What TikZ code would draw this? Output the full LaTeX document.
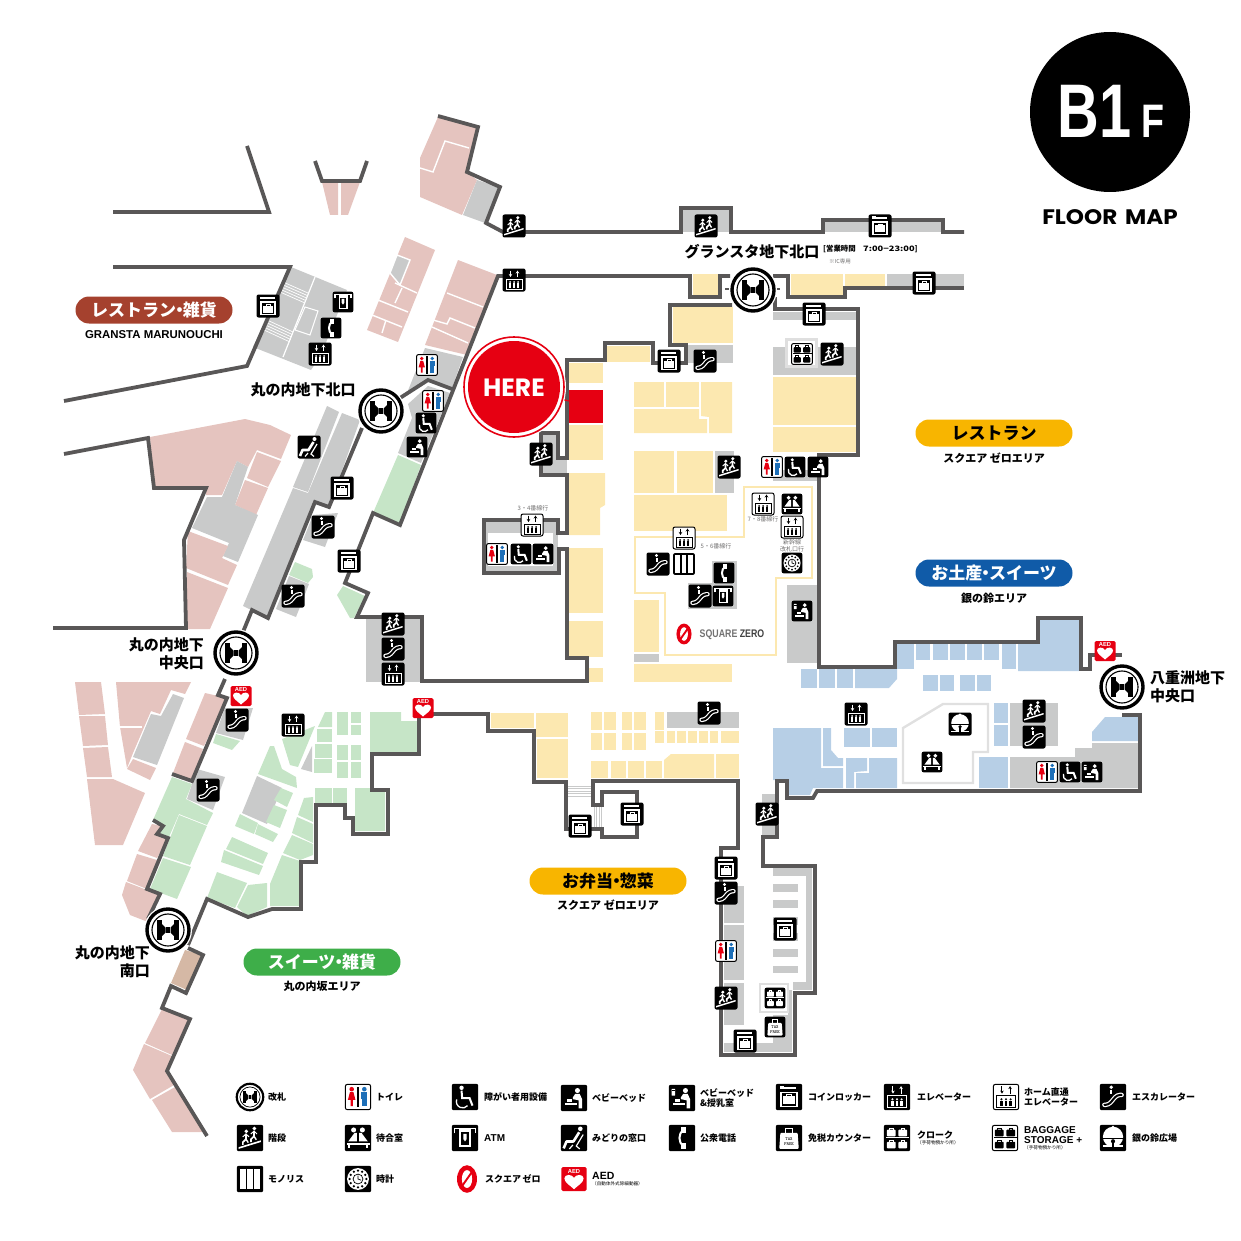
\documentclass[tikz,border=0pt]{standalone}
\usepackage{fontspec}
\usepackage{graphicx}
\usetikzlibrary{arrows.meta}
\newfontfamily\jp{Noto Sans CJK JP}
\newfontfamily\headfont{Poppins}
\setsansfont{Liberation Sans}
\definecolor{wallc}{HTML}{595757}
\definecolor{pinkc}{HTML}{E5C4BF}
\definecolor{grayc}{HTML}{C9CACA}
\definecolor{yelc}{HTML}{FCE8B0}
\definecolor{grnc}{HTML}{C6E5C7}
\definecolor{bluc}{HTML}{B7CFE6}
\definecolor{redc}{HTML}{E60012}
\definecolor{tanc}{HTML}{D5B8A5}
\definecolor{txtg}{HTML}{727171}
\definecolor{pillbrown}{HTML}{A5412E}
\definecolor{pillyel}{HTML}{F8B500}
\definecolor{pillblu}{HTML}{105BA8}
\definecolor{pillgrn}{HTML}{3EAE49}
\definecolor{mansblue}{HTML}{1D6FB8}
\newcommand{\nakag}{\kern-.3em・\kern-.3em}
\newcommand{\ibox}{\fill[black,rounded corners=2] (-11.5,-11.5) rectangle (11.5,11.5);}
\newcommand{\wbox}{\filldraw[fill=white,draw=black,line width=1,rounded corners=2] (-11,-11) rectangle (11,11);}
\newcommand{\elevmark}[1]{
  \draw[#1,line width=1,-{Stealth[length=3,width=3.5]}] (-3.5,-9.5) -- (-3.5,-3);
  \draw[#1,line width=1,-{Stealth[length=3,width=3.5]}] (3.5,-3) -- (3.5,-9.5);
  \draw[#1,line width=1] (-8,-1) rectangle (8,9);
  \foreach \k in {-4,0,4} {
    \fill[#1] (\k,2) circle [radius=1];
    \fill[#1] (\k-1,3.2) rectangle (\k+1,7.5);
  }
}
\newcommand{\bagmark}[1]{
  \fill[#1] (-10,-.6) rectangle (10,.4);
  \foreach \x/\y in {-5/-5,5/-5,-5/5.5,5/5.5} {
    \fill[#1,rounded corners=.8] (\x-3.8,\y-2.2) rectangle (\x+3.8,\y+3.5);
    \draw[#1,line width=.8] (\x-1.5,\y-2) -- (\x-1.5,\y-3.6) -- (\x+1.5,\y-3.6) -- (\x+1.5,\y-2);
  }
}
\newcommand{\babymark}{
  \fill[white] (3,-6.5) circle [radius=2.2];
  \fill[white] (1,-3.5) -- (5,-3.5) -- (7,1) -- (7,9) -- (4,9) -- (4,2) -- (-1,1) -- (-1,-.5) -- cycle;
  \fill[white] (-7.5,4) rectangle (2.5,6.5);
  \fill[white] (-6,1) rectangle (-1.5,3.4);
}
\tikzset{
  wall/.style={draw=wallc,line width=3.8,line join=miter},
  pics/gate/.style={code={
    \fill[white] (0,0) circle [radius=24];
    \draw[line width=#1] (0,0) circle [radius=21];
    \draw[line width=#1*.33] (0,0) circle [radius=16];
    \fill (-11,-10) rectangle (-6,10);
    \fill (6,-10) rectangle (11,10);
    \fill (-6,-6) -- (-2.5,-2.5) -- (-2.5,2.5) -- (-6,6) -- cycle;
    \fill (6,-6) -- (2.5,-2.5) -- (2.5,2.5) -- (6,6) -- cycle;
    \fill (-1.8,-3) rectangle (1.8,3);
  }},
  pics/stairs/.style={code={
    \ibox
    \fill[white] (-10,9.5) -- (9.5,3.5) -- (9.5,2) -- (-10,8) -- cycle;
    \foreach \a/\b in {-3.5/-1,3.5/-3.5} {
      \fill[white] (\a+.3,\b-4.8) circle [radius=1.7];
      \draw[white,line width=1.7] (\a,\b-2.5) -- (\a,\b+2) -- (\a-2.7,\b+4.6) -- (\a-2.7,\b+7);
      \draw[white,line width=1.4] (\a,\b+2) -- (\a+2,\b+5);
      \draw[white,line width=1] (\a-2.8,\b) -- (\a,\b-2.5) -- (\a+2.6,\b);
    }
  }},
  pics/escal/.style={code={
    \ibox
    \draw[white,line width=4.4,rounded corners=3,line cap=round] (-7.5,6.8) -- (-3.8,6.8) -- (3.5,-1.8) -- (7.5,-1.8);
    \draw[black,line width=2,rounded corners=3,line cap=round] (-7.5,6.8) -- (-3.8,6.8) -- (3.5,-1.8) -- (7.5,-1.8);
    \fill[white] (-1.5,-8.5) circle [radius=1.6];
    \draw[white,line width=2] (-1.5,-6.2) -- (-1.5,-2.4);
  }},
  pics/locker/.style={code={
    \ibox
    \fill[white] (-8,-9.5) rectangle (-4.2,-6.6);
    \fill[white] (-4.2,-8.8) rectangle (6.5,-7.4);
    \draw[white,line width=1.3] (-7,-4) rectangle (7,8.5);
    \fill[white] (-5,-.5) rectangle (5,6.5);
    \draw[white,line width=.7] (-2,-.5) -- (-2,-2) -- (2,-2) -- (2,-.5);
  }},
  pics/elev/.style={code={\ibox \elevmark{white}}},
  pics/helev/.style={code={\wbox \elevmark{black}}},
  pics/toilet/.style={code={
    \wbox
    \fill[redc] (-5.5,-6.8) circle [radius=2];
    \fill[redc] (-7,-4.3) -- (-4,-4.3) -- (-2.2,2.5) -- (-4.5,2.5) -- (-4.5,8) -- (-6.5,8) -- (-6.5,2.5) -- (-8.8,2.5) -- cycle;
    \fill[black] (-.7,-9) rectangle (.7,9);
    \fill[mansblue] (5.5,-6.8) circle [radius=2];
    \fill[mansblue] (2.8,-4.3) rectangle (8.2,1.5);
    \fill[mansblue] (3.6,1.5) rectangle (7.4,8);
  }},
  pics/wheel/.style={code={
    \ibox
    \fill[white] (-3,-8) circle [radius=1.9];
    \draw[white,line width=2] (-3,-5.5) -- (-2.5,1) -- (4,1) -- (6.5,7.5);
    \draw[white,line width=1.3] (-7.2,2.1) arc [start angle=200,end angle=40,radius=5.5];
  }},
  pics/baby/.style={code={\ibox \babymark}},
  pics/nurse/.style={code={
    \ibox \babymark
    \fill[white,rounded corners=.5] (-9,-8) rectangle (-6,-2);
    \draw[black,line width=.4] (-9,-6.5) -- (-6,-6.5);
  }},
  pics/seat/.style={code={
    \ibox
    \fill[white] (5.5,-8) circle [radius=2];
    \draw[white,line width=2.6,line join=round] (4.5,-5) -- (-.5,3) -- (-6.5,3) -- (-9,9);
    \draw[white,line width=1.2] (8,-3) -- (2,7) -- (5,9.5);
    \draw[white,line width=1.2] (-1,6) -- (-4,9.5);
  }},
  pics/waiting/.style={code={
    \ibox
    \fill[white] (-3.8,-7) circle [radius=2.2];
    \fill[white] (3.8,-7) circle [radius=2.2];
    \fill[white] (-3,-4.5) -- (-1,-4.5) -- (-1,3) -- (-8.5,3) -- cycle;
    \fill[white] (3,-4.5) -- (1,-4.5) -- (1,3) -- (8.5,3) -- cycle;
    \fill[white] (-10,4) rectangle (10,6);
    \fill[white] (-9,6) rectangle (-7,9);
    \fill[white] (7,6) rectangle (9,9);
  }},
  pics/atm/.style={code={
    \ibox
    \draw[white,line width=1.3] (-9,-4) -- (-9,-8) -- (9,-8) -- (9,-4);
    \fill[white] (-5,-8) rectangle (5,8);
    \fill[black] (-3.4,-5) rectangle (3.4,6.4);
    \fill[white] (-1.4,-3.5) -- (1.4,-3.5) -- (1.4,1) -- (0,3) -- (-1.4,1) -- cycle;
  }},
  pics/tel/.style={code={
    \ibox
    \draw[white,line width=2,line cap=round] (1.5,-7.5) .. controls (-3.5,-4) and (-3.5,4) .. (1.5,7.5);
    \fill[white] (-.8,-9.5) rectangle (3.8,-4.5);
    \fill[white] (-.8,4.5) rectangle (3.8,9.5);
  }},
  pics/mono/.style={code={
    \ibox
    \fill[white] (-9,-9) rectangle (-3.8,9);
    \fill[white] (-2.6,-9) rectangle (2.6,9);
    \fill[white] (3.8,-9) rectangle (9,9);
  }},
  pics/clock/.style={code={
    \ibox
    \fill[white] (0,0) circle [radius=9.5];
    \foreach \k in {0,30,...,330}
      \fill[black] (\k:7.3) circle [radius=1.1];
    \draw[black,line width=.7] (0,0) circle [radius=4.3];
    \draw[black,line width=.7] (0,-3) -- (0,0) -- (2.5,1);
  }},
  pics/cloak/.style={code={\ibox \bagmark{white}}},
  pics/storage/.style={code={\wbox \bagmark{black}}},
  pics/taxfree/.style={code={
    \ibox
    \fill[white,rounded corners=1] (-7.5,-4.5) -- (7.5,-4.5) -- (8.5,9.5) -- (-8.5,9.5) -- cycle;
    \draw[white,line width=1.2] (-3,-4) -- (-3,-8) -- (3,-8) -- (3,-4);
    \node[text=black,font=\ttfamily\bfseries\fontsize{4.6}{4.8}\selectfont,align=center,inner sep=0] (taxmark) at (0,2.8) {TAX\\FREE};
  }},
  pics/bell/.style={code={
    \ibox
    \fill[white] (0,-1) circle [radius=8.8];
    \fill[white] (0,-9.2) circle [radius=1.5];
    \fill[black] (-9,-.4) rectangle (9,1);
    \fill[white] (-9,6.5) rectangle (9,8);
    \fill[black] (-1.1,3) rectangle (1.1,8.8);
    \fill[black] (0,2.8) circle [radius=1.8];
  }},
  pics/aed/.style={code={
    \fill[redc,rounded corners=1.5] (-10.5,-10) rectangle (10.5,10);
    \node[text=white,font=\sffamily\bfseries\fontsize{5.8}{6}\selectfont,inner sep=0] (aedmark) at (0,-6.2) {AED};
    \fill[white] (0,8.5) .. controls (-3,5.5) and (-8,3) .. (-8,-.5) .. controls (-8,-4) and (-2,-4.5) .. (0,-1) .. controls (2,-4.5) and (8,-4) .. (8,-.5) .. controls (8,3) and (3,5.5) .. (0,8.5) -- cycle;
  }},
  pics/zerologo/.style={code={
    \fill[redc] (0,0) ellipse [x radius=10.5,y radius=14.5];
    \fill[white] (0,0) ellipse [x radius=5.4,y radius=9.4];
    \draw[redc,line width=1.9] (-7,10) -- (7,-10);
    \fill[white] (4,-16) -- (12,-16) -- (12,-9) -- cycle;
    \fill[white] (-4,16) -- (-12,16) -- (-12,9) -- cycle;
  }},
  pill/.style={rectangle,rounded corners=13.5,minimum width=157,minimum height=27,inner sep=0,
    font=\jp\bfseries\fontsize{17}{19}\selectfont},
  sublabel/.style={inner sep=0,font=\jp\bfseries\fontsize{11}{13}\selectfont},
  gatelabel/.style={inner sep=0,align=right,font=\jp\bfseries\fontsize{15}{17.5}\selectfont},
  tinylabel/.style={inner sep=0,align=center,text=txtg,font=\jp\fontsize{6}{6.6}\selectfont},
  legendlabel/.style={inner sep=0,anchor=west,align=left,font=\jp\bfseries\fontsize{9}{10.5}\selectfont},
  legendsmall/.style={inner sep=0,anchor=west,font=\jp\fontsize{4.6}{5}\selectfont},
}
\begin{document}
\begin{tikzpicture}[x=1pt,y=-1pt]
\useasboundingbox (0,0) rectangle (1241,1241);

% pink shops, north west
\fill[pinkc] (322,182) -- (338,182) -- (338,215) -- (330,215) -- cycle;
\fill[pinkc] (341,182) -- (360,182) -- (348,215) -- (341,215) -- cycle;
\fill[pinkc] (438,117) -- (477,127) -- (467,172) -- (477,180) -- (462,215) -- (420,197) -- (420,158) -- cycle;
\draw[white,line width=1.4] (420,168) -- (433,172) -- (445,141) -- (469,148);
\fill[grayc] (477,180) -- (498,187) -- (485,223) -- (463,215) -- cycle;
\fill[pinkc] (405,237) -- (435,250) -- (398,342) -- (367,330) -- cycle;
\fill[grayc] (397,255) -- (410,260) -- (400,285) -- (390,273) -- cycle;
\draw[white,line width=1.4] (397,255) -- (410,260) -- (400,285) -- (390,273) -- cycle;
\draw[white,line width=1.4] (395,283) -- (417,293);
\draw[white,line width=1.4] (378,300) -- (408,312);
\draw[white,line width=1.4] (372,315) -- (402,327);
\draw[white,line width=1.4] (386,320) -- (382,333);
\draw[white,line width=1.4] (402,288) -- (395,303);
\fill[pinkc] (458,260) -- (497,275) -- (467,355) -- (425,345) -- cycle;
\draw[white,line width=1.4] (447,293) -- (483,307);
\draw[white,line width=1.4] (433,320) -- (447,324) -- (450,318) -- (475,328);
\draw[white,line width=1.4] (432,327) -- (468,343);
\fill[grayc] (425,348) -- (463,357) -- (452,388) -- (428,380) -- (407,393) -- cycle;
\fill[grayc] (428,386) -- (450,393) -- (421,463) -- (398,453) -- (412,418) -- (408,404) -- cycle;
\fill[grnc] (398,455) -- (421,465) -- (400,523) -- (373,513) -- cycle;

% north west gray block
\fill[grayc] (291,267) -- (347,290) -- (321,355) -- (311,370) -- (253,347) -- cycle;
\draw[white,line width=1.2] (315,277) -- (283,357);
\draw[white,line width=1] (305,307) -- (318,311) -- (310,335) -- (295,330) -- cycle;
\foreach \d in {0,2.5,5,7.5,10} {
  \draw[white,line width=.7] ({283-.3*\d},{282+\d}) -- ({308-.3*\d},{293+\d});
  \draw[white,line width=.7] ({267-.3*\d},{320+\d}) -- ({293-.3*\d},{332+\d});
}

% west side
\fill[pinkc] (150,437) -- (245,419) -- (270,425) -- (291,435) -- (281,459) -- (257,450) -- (248,467) -- (237,461) -- (222,495) -- (206,495) -- (206,488) -- (154,488) -- cycle;
\fill[pinkc] (257,452) -- (281,461) -- (268,487) -- (247,478) -- cycle;
\fill[pinkc] (245,480) -- (268,488) -- (256,515) -- (235,505) -- cycle;
\fill[grayc] (207,497) -- (222,497) -- (237,461) -- (248,467) -- (235,505) -- (258,515) -- (238,562) -- (223,556) -- (229,543) -- (192,528) -- cycle;
\fill[pinkc] (188,531) -- (228,546) -- (222,558) -- (237,565) -- (228,585) -- (186,568) -- cycle;
\fill[pinkc] (187,572) -- (228,588) -- (210,629) -- (187,629) -- cycle;
\fill[grayc] (327,406) -- (339,412) -- (308,492) -- (293,487) -- cycle;
\fill[grayc] (342,413) -- (360,420) -- (329,507) -- (315,502) -- (268,618) -- (243,606) -- (293,488) -- (308,493) -- cycle;
\fill[grayc] (313,515) -- (338,513) -- (325,547) -- (303,540) -- cycle;
\fill[grnc] (295,562) -- (312,569) -- (313,577) -- (308,583) -- (289,575) -- cycle;
\fill[grayc] (289,576) -- (309,584) -- (296,617) -- (276,609) -- cycle;
\fill[grnc] (343,586) -- (365,596) -- (354,618) -- (350,618) -- (337,595) -- cycle;
\fill[grayc] (366,615) rectangle (420,682);

% pink shops, south west
\fill[pinkc] (75,682) -- (101,682) -- (105,714) -- (79,715) -- cycle;
\fill[pinkc] (79,716) -- (105,716) -- (108,745) -- (83,746) -- cycle;
\fill[pinkc] (83,748) -- (108,747) -- (112,777) -- (87,777) -- cycle;
\fill[pinkc] (87,779) -- (113,779) -- (145,793) -- (123,845) -- (95,845) -- cycle;
\fill[pinkc] (116,682) -- (191,682) -- (185,694) -- (171,690) -- (160,714) -- (151,711) -- (133,753) -- (127,768) -- (120,727) -- cycle;
\draw[white,line width=1.2] (119,727) -- (142,727);
\fill[grayc] (173,694) -- (184,698) -- (157,765) -- (133,757) -- (151,714) -- (161,716) -- cycle;
\fill[pinkc] (133,759) -- (156,768) -- (150,780) -- (127,769) -- cycle;
\fill[pinkc] (205,693) -- (227,698) -- (204,746) -- (186,739) -- cycle;
\fill[pinkc] (185,742) -- (203,749) -- (192,781) -- (173,773) -- cycle;
\fill[grayc] (225,708) -- (253,708) -- (243,740) -- (216,733) -- cycle;
\fill[grnc] (216,734) -- (240,741) -- (232,750) -- (213,743) -- cycle;
\fill[grnc] (172,777) -- (192,784) -- (186,799) -- (213,813) -- (207,825) -- (179,814) -- (162,853) -- (168,838) -- (157,834) -- (163,826) -- (153,820) -- cycle;
\fill[grnc] (179,815) -- (207,826) -- (190,865) -- (163,856) -- cycle;
\fill[grnc] (163,858) -- (191,867) -- (177,899) -- (150,889) -- cycle;
\fill[grayc] (197,769) -- (225,777) -- (213,810) -- (187,799) -- cycle;
\fill[pinkc] (152,824) -- (163,826) -- (157,834) -- (168,838) -- (157,858) -- (138,851) -- cycle;
\fill[pinkc] (137,854) -- (157,860) -- (147,889) -- (127,881) -- cycle;
\fill[pinkc] (126,882) -- (147,890) -- (160,895) -- (148,922) -- (130,915) -- (122,895) -- cycle;
\fill[tanc] (185,950) -- (203,955) -- (187,990) -- (171,983) -- cycle;
\fill[pinkc] (162,1009) -- (189,1020) -- (172,1055) -- (145,1043) -- cycle;
\fill[pinkc] (144,1044) -- (172,1056) -- (167,1071) -- (174,1085) -- (150,1099) -- (133,1070) -- cycle;
\fill[pinkc] (152,1100) -- (175,1087) -- (206,1132) -- (172,1132) -- cycle;

% green area
\fill[grnc] (325,712) -- (332,712) -- (332,727) -- (318,727) -- cycle;
\foreach \xa/\ya/\xb/\yb in {337/712/348/735,351/712/361/723,351/725/361/735,317/729/332/742,315/744/332/758,314/759/332/773,337/745/348/760,351/745/361/760,337/762/348/778,351/762/361/778,315/788/332/803,333/788/347/803}
  \fill[grnc] (\xa,\ya) rectangle (\xb,\yb);
\fill[grnc] (370,712) -- (401,712) -- (401,721) -- (417,721) -- (417,752) -- (370,752) -- cycle;
\fill[grnc] (355,788) -- (371,788) -- (371,791) -- (385,791) -- (385,831) -- (355,831) -- cycle;
\fill[grnc] (282,739) -- (315,726) -- (298,767) -- (290,765) -- cycle;
\fill[grayc] (312,746) -- (312,772) -- (301,769) -- cycle;
\fill[grnc] (270,746) -- (274,746) -- (282,769) -- (296,777) -- (297,788) -- (258,774) -- cycle;
\fill[grayc] (257,776) -- (282,788) -- (267,824) -- (242,813) -- cycle;
\fill[grnc] (281,788) -- (293,793) -- (287,807) -- (274,800) -- cycle;
\fill[grnc] (274,805) -- (287,810) -- (280,828) -- (266,822) -- cycle;
\fill[grnc] (240,814) -- (258,823) -- (254,834) -- (235,826) -- cycle;
\fill[grnc] (258,824) -- (278,834) -- (273,842) -- (255,834) -- cycle;
\fill[grnc] (232,837) -- (268,853) -- (263,864) -- (226,849) -- cycle;
\fill[grnc] (224,850) -- (263,866) -- (259,875) -- (221,862) -- cycle;
\fill[grnc] (217,872) -- (247,883) -- (235,908) -- (207,898) -- cycle;
\fill[grnc] (248,885) -- (267,883) -- (267,907) -- (247,916) -- (237,907) -- cycle;
\fill[grnc] (270,884) -- (282,855) -- (300,861) -- (300,906) -- (270,906) -- cycle;
\fill[grnc] (283,853) -- (292,835) -- (313,844) -- (313,855) -- (300,860) -- cycle;
\fill[grnc] (292,833) -- (297,817) -- (313,824) -- (313,843) -- cycle;
\fill[grnc] (298,815) -- (304,798) -- (313,797) -- (313,822) -- cycle;

% yellow area
\foreach \xa/\ya/\xb/\yb in {569/363/603/383,569/425/603/460,569/548/603/613,569/621/603/657,607/346/650/362,673/307/733/343,693/274/718/295,845/274/885/286,634/382/664/407,666/382/699/407,634/451/674/493,677/451/713/493,634/495/727/531,773/377/856/425,773/427/856/452,634/600/659/652,634/664/732/682,588/668/603/682,491/713/534/728,536/713/568/737,537/739/568/778,591/712/602/730,604/712/616/730,622/712/632/730,634/712/646/730,655/712/664/730,591/733/602/750,604/733/616/750,622/733/632/750,634/733/646/750,655/731/664/743,667/731/675/743,677/731/686/743,688/731/697/743,699/731/708/743,710/731/718/743,721/731/739/743,591/761/608/778,611/761/626/778,628/761/644/778,646/761/662/778,716/754/739/778}
  \fill[yelc] (\xa,\ya) rectangle (\xb,\yb);
\fill[yelc] (791,274) rectangle (843,295);
\fill[yelc] (569,473) -- (605,473) -- (605,505) -- (600,508) -- (600,535) -- (569,535) -- cycle;
\fill[yelc] (634,409) -- (699,409) -- (699,419) -- (707,419) -- (707,433) -- (634,433) -- cycle;
\fill[yelc] (701,382) -- (732,382) -- (732,433) -- (709,433) -- (709,417) -- (701,416) -- cycle;
\fill[yelc] (664,778) -- (664,760) -- (671,754) -- (714,754) -- (714,778) -- cycle;
\fill[redc] (569,390) rectangle (603,423);
\draw[yelc,line width=1.8] (812,487) -- (744,487) -- (744,537) -- (635,537) -- (635,593) -- (665,593) -- (665,655) -- (776,655) -- (776,578) -- (812,578) -- cycle;

% gray zones, centre and east
\foreach \xa/\ya/\xb/\yb in {822/220/943/232,682/208/731/232,887/274/964/288,687/345/733/363,773/312/856/320,773/347/856/375,773/470/817/481,715/451/734/493,712/561/737/583,688/583/737/609,787/585/817/663,634/654/659/662,667/712/739/728,541/435/558/456,541/456/567/473,483/522/558/533,483/533/488/571,553/533/558/571,483/566/558/571,762/794/775/837,1010/703/1058/746}
  \fill[grayc] (\xa,\ya) rectangle (\xb,\yb);
\fill[grayc!60] (785,338) rectangle (818,368);
\fill[white] (788,341) rectangle (815,365);
\foreach \d in {0,2.5,5,7.5,10}
  \draw[grayc,line width=.7] (568,{786+\d}) -- (591,{786+\d});
\foreach \d in {0,2.5,5,7.5}
  \draw[grayc,line width=.7] ({594+\d},806) -- ({594+\d},827);

% gray zones, south
\foreach \xa/\ya/\xb/\yb in {724/886/744/923,724/925/744/980,724/983/744/1025,724/1043/792/1052,773/1015/792/1043,788/990/792/1052,793/982/812/990,806/868/812/990,773/868/812/876,773/884/798/892,773/900/798/908,773/917/798/925,773/933/798/941,773/949/798/957,773/966/798/973}
  \fill[grayc] (\xa,\ya) rectangle (\xb,\yb);
\draw[grayc!60,line width=2] (760,984) rectangle (788,1012);

% blue area
\foreach \xa/\ya/\xb/\yb in {897/644/914/669,916/644/930/660,933/644/948/660,950/644/965/660,967/644/982/660,984/644/999/660,1002/644/1016/669,801/669/817/688,819/669/835/688,837/669/853/688,923/675/938/691,940/675/954/691,960/675/975/691,977/675/991/691,994/703/1008/723,994/725/1008/746,979/757/1008/788,844/728/870/747,872/728/897/747}
  \fill[bluc] (\xa,\ya) rectangle (\xb,\yb);
\fill[bluc] (1018,644) -- (1040,644) -- (1040,620) -- (1079,620) -- (1079,671) -- (1018,671) -- cycle;
\fill[bluc] (855,669) -- (897,669) -- (897,679) -- (889,688) -- (855,688) -- cycle;
\fill[bluc] (1092,732) -- (1105,717) -- (1138,717) -- (1138,741) -- (1092,741) -- cycle;
\fill[grayc] (1010,757) -- (1075,757) -- (1075,748) -- (1092,748) -- (1092,743) -- (1138,743) -- (1138,788) -- (1010,788) -- cycle;
\fill[bluc] (773,728) -- (821,728) -- (821,768) -- (843,768) -- (843,788) -- (813,788) -- (810,795) -- (787,795) -- (787,780) -- (773,780) -- cycle;
\fill[bluc] (823,728) -- (831,728) -- (831,750) -- (838,758) -- (843,758) -- (843,766) -- (823,766) -- cycle;
\fill[bluc] (846,758) -- (867,758) -- (867,771) -- (854,772) -- (854,788) -- (846,788) -- cycle;
\fill[bluc] (856,773) -- (869,773) -- (869,758) -- (897,758) -- (897,788) -- (856,788) -- cycle;
\draw[black!12,line width=2.4] (903,728) -- (943,704) -- (988,704) -- (988,752) -- (973,752) -- (973,783) -- (903,783) -- cycle;

% walls
\draw[wall] (247,146) -- (269,212) -- (113,212);
\draw[wall] (315,161) -- (322,181) -- (360,181) -- (367,161);
\draw[wall] (113,267) -- (290,267) -- (247,366) -- (64,401);
\draw[wall] (438,116) -- (478,127) -- (467,172) -- (500,187) -- (486,223) -- (503,232) -- (681,232) -- (681,208) -- (731,208) -- (731,232) -- (823,232) -- (823,220) -- (943,220) -- (943,232) -- (964,232);
\draw[wall] (964,288) -- (845,288) -- (845,297) -- (788,297) -- (788,276) -- (773,276);
\draw[wall] (730,276) -- (720,276) -- (720,297) -- (690,297) -- (690,276) -- (498,276) -- (400,525) -- (373,513) -- (345,583) -- (368,593) -- (357,617) -- (422,617) -- (422,681) -- (587,681) -- (587,658) -- (567,658) -- (567,549) -- (559,549) -- (559,573) -- (484,573) -- (484,520) -- (558,520) -- (558,533) -- (567,533) -- (567,475) -- (541,475) -- (541,433) -- (558,433) -- (558,458) -- (567,458) -- (567,360) -- (605,360) -- (605,343) -- (653,343) -- (653,363) -- (686,363) -- (686,345) -- (670,345) -- (670,305) -- (732,305);
\draw[wall] (775,297) -- (775,309) -- (858,309) -- (858,455) -- (819,455) -- (819,667) -- (895,667) -- (895,642) -- (1038,642) -- (1038,618) -- (1081,618) -- (1081,669) -- (1090,669) -- (1090,655) -- (1122,655);
\draw[wall] (1122,715) -- (1140,715) -- (1140,791) -- (817,791) -- (813,798) -- (787,798) -- (787,781) -- (777,781) -- (777,837) -- (763,837) -- (763,866) -- (815,866) -- (815,993) -- (795,993) -- (795,1055) -- (721,1055) -- (721,848) -- (738,848) -- (738,781) -- (593,781) -- (593,805) -- (602,805) -- (602,792) -- (637,792) -- (637,837) -- (602,837) -- (602,829) -- (566,829) -- (566,782) -- (534,782) -- (534,731) -- (488,731) -- (488,714) -- (419,714) -- (419,754) -- (372,754) -- (372,790) -- (388,790) -- (388,834) -- (353,834) -- (353,818) -- (345,818) -- (345,805) -- (316,805) -- (316,862) -- (301,862) -- (301,909) -- (272,909) -- (248,917) -- (207,899) -- (188,945);
\draw[wall] (400,398) -- (428,380) -- (452,389);
\draw[wall] (64,454) -- (148,438) -- (154,488) -- (206,488) -- (184,540) -- (186,628) -- (53,628);
\draw[wall] (362,428) -- (329,507) -- (315,502) -- (268,618) -- (252,610) -- (243,632);
\draw[wall] (225,679) -- (218,695) -- (227,698) -- (192,781) -- (172,774);
\draw[wall] (153,820) -- (163,826) -- (157,834) -- (168,838) -- (147,889) -- (160,894) -- (148,919);
\draw[wall] (188,948) -- (203,955) -- (186,993) -- (171,986) -- (162,1008) -- (190,1019) -- (167,1071) -- (207,1136);

% north gate stubs
\draw[wall,line width=2.4] (725,289) -- (732,289);
\draw[wall,line width=2.4] (773,289) -- (780,289);

% here marker
\draw[redc,line width=1.2] (556,398) -- (569,401);
\fill[white] (514,387) circle [radius=52];
\draw[redc,line width=1.6] (514,387) circle [radius=50];
\fill[redc] (514,387) circle [radius=46];
\node[text=white,inner sep=0,font=\headfont\bfseries\fontsize{25}{27}\selectfont] (here) at (514,388) {HERE};

% gates
\foreach \x/\y in {381/411,236/653,168/930,753/290,1122/687}
  \pic at (\x,\y) {gate=3.4};

% icons on the map
\foreach \x/\y in {514/226,706/226,541/454,729/467,832/354,393/624,1034/711,767/814,726/998}
  \pic at (\x,\y) {stairs};
\foreach \x/\y in {880/226,924/283,814/314,669/361,268/306,342/488,349/561,580/826,632/814,726/868,785/929,745/1041}
  \pic at (\x,\y) {locker};
\foreach \x/\y in {514/280,320/354,293/725,856/714,393/674}
  \pic at (\x,\y) {elev};
\foreach \x/\y in {532/525,684/538,763/504,792/527}
  \pic at (\x,\y) {helev};
\foreach \x/\y in {705/361,323/527,293/596,393/649,237/720,208/790,709/713,726/893,1034/737,658/564,700/596}
  \pic at (\x,\y) {escal};
\foreach \x/\y in {427/365,433/401,772/467,497/554,726/951,1047/772}
  \pic[scale=.95] at (\x,\y) {toilet};
\foreach \x/\y in {426/423,795/467,521/554,1070/772}
  \pic[scale=.9] at (\x,\y) {wheel};
\foreach \x/\y in {417/447,818/467,543/554}
  \pic[scale=.9] at (\x,\y) {baby};
\foreach \x/\y in {1092/772,802/611}
  \pic[scale=.9] at (\x,\y) {nurse};
\foreach \x/\y in {343/302,723/596}
  \pic[scale=.9] at (\x,\y) {atm};
\foreach \x/\y in {331/328,724/573}
  \pic[scale=.9] at (\x,\y) {tel};
\foreach \x/\y in {792/504,932/762}
  \pic[scale=.9] at (\x,\y) {waiting};
\foreach \x/\y in {241/696,423/708,1105/651}
  \pic at (\x,\y) {aed};
\pic at (309,447) {seat};
\pic[scale=.95] at (684,564) {mono};
\pic[scale=.9] at (792,563) {clock};
\pic[scale=.95] at (802,354) {storage};
\pic[scale=.9] at (775,998) {cloak};
\pic[scale=.9] at (775,1027) {taxfree};
\pic at (960,724) {bell};
\pic[scale=.72] at (684,634) {zerologo};

% floor badge
\fill (1110,112) circle [radius=80];
\node[text=white,inner sep=0,anchor=base east,font=\sffamily\bfseries\fontsize{76}{78}\selectfont] (bone) at (1132,138) {\scalebox{.76}[1]{B1}};
\node[text=white,inner sep=0,anchor=base west,font=\sffamily\bfseries\fontsize{47}{49}\selectfont] (bf) at (1141,138) {\scalebox{.8}[1]{F}};
\node[inner sep=0,font=\headfont\bfseries\fontsize{21}{23}\selectfont] (floormap) at (1110,217) {\scalebox{1.1}[1]{FLOOR\,\,MAP}};

% area labels
\node[pill,fill=pillbrown,text=white] (resta) at (154,310) {レストラン\nakag 雑貨};
\node[sublabel,font=\sffamily\bfseries\fontsize{11.4}{14}\selectfont] (restb) at (154,335) {GRANSTA MARUNOUCHI};
\node[pill,fill=pillyel] (east) at (994,433) {レストラン};
\node[sublabel] (eastb) at (994,458) {スクエア ゼロエリア};
\node[pill,fill=pillblu,text=white] (gift) at (994,573) {お土産\nakag スイーツ};
\node[sublabel] (giftb) at (994,598) {銀の鈴エリア};
\node[pill,fill=pillyel] (bento) at (608,881) {お弁当\nakag 惣菜};
\node[sublabel] (bentob) at (608,905) {スクエア ゼロエリア};
\node[pill,fill=pillgrn,text=white] (sweet) at (322,962) {スイーツ\nakag 雑貨};
\node[sublabel] (sweetb) at (322,986) {丸の内坂エリア};

% gate labels
\node[gatelabel] (gnorth) at (303,390) {丸の内地下北口};
\node[gatelabel,anchor=east] (gmid) at (204,654) {丸の内地下\\中央口};
\node[gatelabel,anchor=east] (gsouth) at (150,962) {丸の内地下\\南口};
\node[gatelabel,anchor=west,align=left] (geast) at (1150,687) {八重洲地下\\中央口};
\node[gatelabel] (ggran) at (752,252) {グランスタ地下北口};
\node[inner sep=0,anchor=west,font=\jp\bfseries\fontsize{7.4}{8}\selectfont] (ghours) at (823,249) {[営業時間\quad\scalebox{1.25}[1]{7:00−23:00}]};
\node[tinylabel,font=\jp\fontsize{5.5}{6}\selectfont] (gic) at (840,261) {※IC専用};
\node[tinylabel] (tra) at (533,508) {3・4番線行};
\node[tinylabel] (trb) at (716,546) {5・6番線行};
\node[tinylabel] (trc) at (763,519) {7・8番線行};
\node[tinylabel] (trd) at (792,546) {新幹線\\改札口行};
\node[inner sep=0,text=txtg,font=\sffamily\bfseries\fontsize{11}{12}\selectfont] (szero) at (732,635) {\scalebox{.8}[1]{SQUARE \textcolor{black!75}{ZERO}}};

% legend
\pic[scale=.63] at (250,1097) {gate=2.2};
\pic[scale=1.15] at (358,1097) {toilet};
\pic[scale=1.15] at (465,1097) {wheel};
\pic[scale=1.15] at (574,1098) {baby};
\pic[scale=1.15] at (682,1098) {nurse};
\pic[scale=1.15] at (789,1097) {locker};
\pic[scale=1.15] at (897,1097) {elev};
\pic[scale=1.15] at (1006,1097) {helev};
\pic[scale=1.15] at (1113,1097) {escal};
\pic[scale=1.15] at (250,1138) {stairs};
\pic[scale=1.15] at (358,1138) {waiting};
\pic[scale=1.15] at (465,1138) {atm};
\pic[scale=1.15] at (574,1138) {seat};
\pic[scale=1.15] at (682,1138) {tel};
\pic[scale=1.15] at (789,1138) {taxfree};
\pic[scale=1.15] at (897,1138) {cloak};
\pic[scale=1.15] at (1005,1138) {storage};
\pic[scale=1.15] at (1113,1138) {bell};
\pic[scale=1.15] at (250,1179) {mono};
\pic[scale=1.15] at (358,1179) {clock};
\pic[scale=.95] at (467,1179) {zerologo};
\pic[scale=1.2] at (574,1179) {aed};
\foreach \nm/\x/\y/\txt in {la/268/1097/改札,lb/376/1097/トイレ,lc/484/1097/障がい者用設備,ld/592/1098/ベビーベッド,le/700/1098/{ベビーベッド\\\&授乳室},lf/808/1097/コインロッカー,lg/917/1097/エレベーター,lh/1024/1097/{ホーム直通\\エレベーター},li/1132/1097/エスカレーター,lj/268/1138/階段,lk/376/1138/待合室,ll/592/1138/みどりの窓口,lm/700/1138/公衆電話,ln/808/1138/免税カウンター,lo/917/1135/クローク,lp/1132/1138/銀の鈴広場,lq/268/1179/モノリス,lr/376/1179/時計,ls/485/1179/スクエア\,ゼロ}
  \node[legendlabel] (\nm) at (\x,\y) {\txt};
\node[legendlabel,font=\sffamily\bfseries\fontsize{10}{11}\selectfont] (lt) at (484,1138) {ATM};
\node[legendlabel,font=\sffamily\bfseries\fontsize{10.5}{11}\selectfont] (lu) at (592,1176) {AED};
\node[legendsmall] (lv) at (592,1184) {（自動体外式除細動器）};
\node[legendsmall] (lw) at (917,1143) {（手荷物預かり所）};
\node[legendlabel,font=\sffamily\bfseries\fontsize{10}{10.4}\selectfont] (lx) at (1024,1135) {BAGGAGE\\STORAGE +};
\node[legendsmall] (ly) at (1024,1148) {（手荷物預かり所）};
\end{tikzpicture}
\end{document}
